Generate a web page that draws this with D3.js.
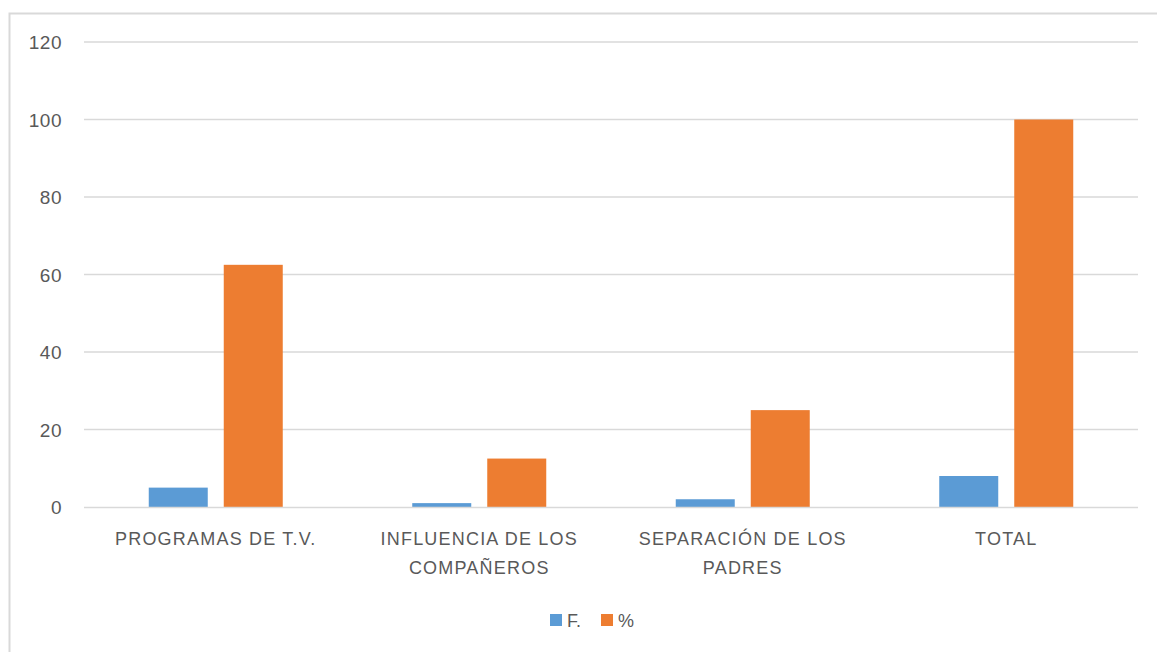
<!DOCTYPE html>
<html><head><meta charset="utf-8">
<script src="https://cdn.jsdelivr.net/npm/d3@7"></script>
<style>body{margin:0;background:#fff;} text{font-family:"Liberation Sans","Open Sans",sans-serif;fill:#595959;}</style>
</head><body>
<svg id="c" width="1157" height="652"></svg>
<script>
const categories = [["PROGRAMAS DE T.V."], ["INFLUENCIA DE LOS", "COMPAÑEROS"], ["SEPARACIÓN DE LOS", "PADRES"], ["TOTAL"]];
const seriesNames = ["F.", "%"];
const valuesF = [5, 1, 2, 8];
const valuesPct = [62.5, 12.5, 25, 100];
const yTicks = [0, 20, 40, 60, 80, 100, 120];
const colors = ["#5B9BD5", "#ED7D31"];

(function () {
const svg = d3.select("#c");
svg.append("rect").attr("x", 9.5).attr("y", 13.5).attr("width", 1160).attr("height", 660)
  .attr("fill", "#fff").attr("stroke", "#d9d9d9").attr("stroke-width", 2);

const pLeft = 84, pRight = 1138, pTop = 42, pBottom = 507;
const x = d3.scaleBand().domain(d3.range(categories.length)).range([pLeft, pRight]);
const groupW = 134;
const xs = d3.scaleBand().domain([0, 1]).range([0, groupW]).paddingInner(16 / 75);
const y = d3.scaleLinear().domain([0, 120]).range([pBottom, pTop]);

// gridlines
svg.append("g").selectAll("line").data(yTicks.filter(d => d > 0)).join("line")
  .attr("x1", pLeft).attr("x2", pRight).attr("y1", d => y(d)).attr("y2", d => y(d))
  .attr("stroke", "#d9d9d9").attr("stroke-width", 1.3);

// y labels
const yAxis = d3.axisLeft(y).tickValues(yTicks).tickSize(0).tickPadding(0);
const ya = svg.append("g").attr("transform", "translate(62,0)").call(yAxis);
ya.select(".domain").remove();
ya.selectAll("text").style("font-size", "19px").attr("fill", "#595959").attr("dy", "0.35em")
  .style("font-family", "'Liberation Sans',sans-serif").style("letter-spacing", "0.5px");

const series = [valuesF, valuesPct];
series.forEach((vals, si) => {
  svg.append("g").selectAll("rect").data(vals).join("rect")
    .attr("x", (d, i) => x(i) + (x.bandwidth() - groupW) / 2 + xs(si))
    .attr("width", xs.bandwidth())
    .attr("y", d => y(d)).attr("height", d => y(0) - y(d))
    .attr("fill", colors[si]);
});

// x axis line
svg.append("line").attr("x1", pLeft).attr("x2", pRight).attr("y1", pBottom + 0.5).attr("y2", pBottom + 0.5)
  .attr("stroke", "#d9d9d9").attr("stroke-width", 1.5);

// category labels
const xAxis = d3.axisBottom(x).tickSize(0).tickFormat(() => "");
const xa = svg.append("g").attr("transform", `translate(0,${pBottom})`).call(xAxis);
xa.select(".domain").remove();
xa.selectAll(".tick").each(function (d) {
  const t = d3.select(this).append("text").attr("text-anchor", "middle")
    .style("font-size", "18px").attr("fill", "#595959").style("letter-spacing", "1.2px");
  categories[d].forEach((ln, k) => {
    t.append("tspan").attr("x", 0).attr("y", 38 + k * 29).text(ln);
  });
});

// legend
const lg = svg.append("g");
const legendItems = [{ x: 550, name: seriesNames[0], c: colors[0] }, { x: 601, name: seriesNames[1], c: colors[1] }];
legendItems.forEach(it => {
  lg.append("rect").attr("x", it.x).attr("y", 614).attr("width", 12).attr("height", 12).attr("fill", it.c);
  lg.append("text").attr("x", it.x + 17).attr("y", 627).style("font-size", "18px").text(it.name);
});
})();
</script>
</body></html>
